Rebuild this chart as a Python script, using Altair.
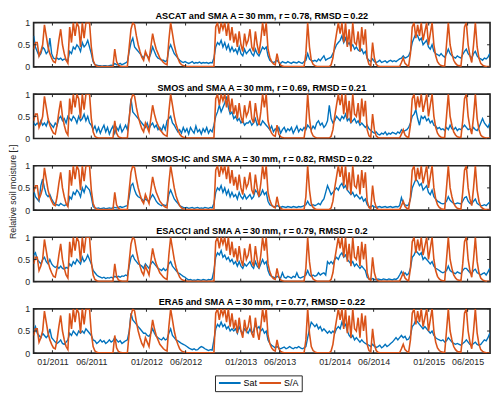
import altair as alt
import pandas as pd

BLUE = "#0072BD"
ORANGE = "#D95319"
FRAME = "#262626"
FONT = "Liberation Sans"

# weekly sampling dates of the time series
dates = pd.date_range("2010-10-20", periods=254, freq="7D")

# S/A model (orange) (same in every panel)
sa = [
    0.40, 0.55, 0.55, 0.25, 0.35, 0.50, 0.95, 0.70, 0.45, 0.30,
    0.20, 0.12, 0.10, 0.30, 0.60, 0.85, 0.50, 0.30, 0.15, 0.08,
    0.90, 0.55, 1.00, 0.70, 1.00, 0.90, 0.45, 1.00, 0.65, 1.00,
    1.00, 1.00, 0.45, 0.15, 0.05, 0.02, 0.01, 0.01, 0.01, 0.01,
    0.01, 0.01, 0.01, 0.01, 0.01, 0.40, 0.12, 0.04, 0.02, 0.01,
    0.01, 0.01, 0.01, 0.45, 0.85, 1.00, 0.95, 0.70, 0.50, 0.35,
    0.22, 0.15, 0.35, 0.25, 0.15, 0.45, 0.75, 0.55, 0.40, 0.30,
    0.20, 0.15, 0.10, 0.07, 0.05, 0.60, 1.00, 0.75, 0.50, 0.32,
    0.20, 0.10, 0.05, 0.03, 0.02, 0.01, 0.01, 0.01, 0.01, 0.01,
    0.01, 0.01, 0.01, 0.01, 0.01, 0.01, 0.01, 0.01, 0.01, 0.01,
    0.01, 0.90, 1.00, 0.75, 1.00, 0.85, 1.00, 0.70, 1.00, 0.60,
    0.90, 0.55, 0.75, 0.45, 0.80, 0.50, 0.35, 0.75, 0.50, 0.60,
    0.85, 0.45, 0.35, 0.80, 0.50, 0.30, 0.60, 1.00, 0.70, 1.00,
    0.40, 0.22, 0.12, 0.07, 0.05, 0.30, 0.10, 0.04, 0.02, 0.01,
    0.01, 0.01, 0.01, 0.01, 0.01, 0.01, 0.01, 0.01, 0.01, 0.01,
    0.01, 0.30, 1.00, 0.45, 0.15, 0.06, 0.03, 0.01, 0.01, 0.01,
    0.01, 0.01, 0.01, 0.01, 0.01, 0.05, 0.20, 0.50, 0.75, 1.00,
    0.75, 1.00, 0.55, 1.00, 0.45, 0.85, 0.35, 1.00, 0.55, 0.50,
    0.80, 0.35, 0.90, 0.50, 0.85, 0.20, 0.06, 0.03, 0.55, 0.20,
    0.06, 0.02, 0.01, 0.01, 0.01, 0.01, 0.01, 0.01, 0.01, 0.01,
    0.01, 0.01, 0.01, 0.01, 0.10, 0.20, 0.08, 0.04, 0.02, 0.30,
    0.90, 1.00, 0.65, 0.95, 0.70, 1.00, 0.60, 0.80, 1.00, 0.50,
    0.75, 1.00, 0.50, 0.25, 0.12, 0.06, 0.03, 0.02, 0.02, 0.50,
    1.00, 0.50, 0.30, 0.15, 0.08, 0.04, 0.03, 0.02, 0.40, 0.90,
    1.00, 0.50, 0.25, 0.10, 0.50, 1.00, 0.45, 0.20, 0.08, 0.04,
    0.02, 0.01, 0.01, 0.01,
]

sat_ascat = [
    0.70, 0.45, 0.35, 0.25, 0.30, 0.45, 0.40, 0.30, 0.35, 0.65,
    0.30, 0.20, 0.18, 0.20, 0.17, 0.20, 0.15, 0.18, 0.16, 0.14,
    0.35, 0.30, 0.45, 0.40, 0.50, 0.45, 0.35, 0.55, 0.45, 0.50,
    0.60, 0.45, 0.30, 0.12, 0.05, 0.04, 0.03, 0.03, 0.02, 0.03,
    0.03, 0.02, 0.03, 0.04, 0.03, 0.08, 0.05, 0.06, 0.08, 0.05,
    0.07, 0.09, 0.12, 0.35, 0.55, 0.65, 0.45, 0.40, 0.35, 0.30,
    0.25, 0.20, 0.30, 0.25, 0.20, 0.30, 0.45, 0.35, 0.25, 0.20,
    0.18, 0.15, 0.15, 0.12, 0.15, 0.40, 0.50, 0.40, 0.30, 0.25,
    0.20, 0.15, 0.12, 0.10, 0.12, 0.10, 0.08, 0.10, 0.12, 0.08,
    0.10, 0.09, 0.11, 0.08, 0.10, 0.09, 0.10, 0.08, 0.10, 0.09,
    0.20, 0.45, 0.55, 0.50, 0.60, 0.45, 0.55, 0.40, 0.50, 0.35,
    0.45, 0.35, 0.40, 0.30, 0.45, 0.30, 0.25, 0.40, 0.30, 0.35,
    0.40, 0.30, 0.25, 0.40, 0.30, 0.25, 0.35, 0.45, 0.40, 0.45,
    0.25, 0.15, 0.12, 0.10, 0.12, 0.15, 0.10, 0.08, 0.12, 0.10,
    0.09, 0.12, 0.10, 0.08, 0.11, 0.10, 0.09, 0.12, 0.10, 0.08,
    0.12, 0.15, 0.30, 0.18, 0.15, 0.13, 0.15, 0.12, 0.18, 0.14,
    0.20, 0.25, 0.15, 0.18, 0.20, 0.22, 0.30, 0.40, 0.50, 0.55,
    0.60, 0.70, 0.55, 0.65, 0.50, 0.55, 0.45, 0.50, 0.40, 0.45,
    0.38, 0.35, 0.40, 0.30, 0.35, 0.20, 0.15, 0.12, 0.18, 0.12,
    0.10, 0.12, 0.15, 0.10, 0.12, 0.14, 0.10, 0.13, 0.15, 0.12,
    0.14, 0.12, 0.15, 0.18, 0.20, 0.25, 0.20, 0.22, 0.25, 0.35,
    0.55, 0.65, 0.75, 0.70, 0.60, 0.65, 0.50, 0.55, 0.60, 0.45,
    0.40, 0.50, 0.35, 0.30, 0.28, 0.25, 0.30, 0.25, 0.22, 0.30,
    0.40, 0.30, 0.25, 0.22, 0.20, 0.25, 0.22, 0.20, 0.28, 0.35,
    0.40, 0.30, 0.25, 0.20, 0.30, 0.35, 0.25, 0.20, 0.18, 0.15,
    0.20, 0.18, 0.22, 0.30,
]

sat_smos = [
    0.35, 0.30, 0.35, 0.30, 0.40, 0.30, 0.35, 0.28, 0.40, 0.35,
    0.30, 0.25, 0.35, 0.30, 0.45, 0.50, 0.40, 0.45, 0.35, 0.50,
    0.45, 0.40, 0.50, 0.45, 0.35, 0.50, 0.40, 0.45, 0.55, 0.40,
    0.50, 0.35, 0.30, 0.20, 0.28, 0.15, 0.25, 0.12, 0.22, 0.30,
    0.15, 0.25, 0.10, 0.20, 0.28, 0.12, 0.25, 0.18, 0.30, 0.15,
    0.22, 0.30, 0.20, 0.45, 0.90, 0.60, 0.55, 0.50, 0.45, 0.40,
    0.35, 0.30, 0.25, 0.35, 0.22, 0.30, 0.35, 0.25, 0.30, 0.20,
    0.25, 0.18, 0.30, 0.20, 0.40, 0.45, 0.50, 0.35, 0.30, 0.22,
    0.15, 0.20, 0.12, 0.25, 0.15, 0.22, 0.10, 0.25, 0.18, 0.12,
    0.28, 0.15, 0.20, 0.10, 0.22, 0.15, 0.25, 0.12, 0.20, 0.15,
    0.30, 0.50, 0.60, 0.75, 0.60, 0.70, 0.80, 0.95, 0.70, 0.55,
    0.60, 0.45, 0.50, 0.40, 0.45, 0.35, 0.40, 0.30, 0.35, 0.35,
    0.40, 0.30, 0.35, 0.45, 0.30, 0.35, 0.30, 0.40, 0.35, 0.30,
    0.25, 0.20, 0.28, 0.15, 0.22, 0.18, 0.25, 0.12, 0.20, 0.25,
    0.15, 0.22, 0.18, 0.25, 0.12, 0.20, 0.28, 0.15, 0.22, 0.18,
    0.25, 0.20, 0.30, 0.25, 0.20, 0.28, 0.22, 0.35, 0.40, 0.30,
    0.35, 0.25, 0.30, 0.40, 0.75, 0.45, 0.35, 0.40, 0.50, 0.45,
    0.40, 0.50, 0.45, 0.55, 0.40, 0.45, 0.35, 0.40, 0.45, 0.35,
    0.40, 0.30, 0.35, 0.30, 0.25, 0.30, 0.22, 0.18, 0.15, 0.12,
    0.15, 0.10, 0.08, 0.12, 0.10, 0.15, 0.08, 0.12, 0.10, 0.14,
    0.12, 0.10, 0.15, 0.12, 0.20, 0.15, 0.18, 0.20, 0.25, 0.35,
    0.50, 0.55, 0.65, 0.45, 0.30, 0.50, 0.45, 0.50, 0.40, 0.45,
    0.35, 0.40, 0.30, 0.28, 0.22, 0.25, 0.20, 0.22, 0.18, 0.25,
    0.20, 0.30, 0.22, 0.20, 0.25, 0.18, 0.22, 0.20, 0.25, 0.30,
    0.25, 0.20, 0.22, 0.18, 0.25, 0.20, 0.18, 0.25, 0.35, 0.45,
    0.35, 0.30, 0.25, 0.35,
]

sat_smosic = [
    0.45, 0.30, 0.25, 0.20, 0.55, 0.70, 0.50, 0.35, 0.30, 0.35,
    0.25, 0.18, 0.12, 0.12, 0.10, 0.15, 0.12, 0.10, 0.12, 0.10,
    0.30, 0.25, 0.40, 0.35, 0.45, 0.40, 0.30, 0.50, 0.40, 0.55,
    0.50, 0.45, 0.30, 0.08, 0.05, 0.04, 0.05, 0.03, 0.04, 0.05,
    0.03, 0.04, 0.05, 0.04, 0.05, 0.06, 0.05, 0.06, 0.08, 0.06,
    0.07, 0.09, 0.10, 0.30, 0.55, 0.60, 0.45, 0.35, 0.30, 0.28,
    0.25, 0.20, 0.25, 0.22, 0.20, 0.28, 0.35, 0.28, 0.20, 0.15,
    0.12, 0.10, 0.12, 0.10, 0.12, 0.35, 0.45, 0.35, 0.25, 0.20,
    0.15, 0.10, 0.08, 0.06, 0.05, 0.06, 0.04, 0.05, 0.06, 0.04,
    0.05, 0.06, 0.04, 0.05, 0.04, 0.06, 0.05, 0.04, 0.06, 0.05,
    0.15, 0.40, 0.50, 0.45, 0.55, 0.40, 0.50, 0.35, 0.45, 0.30,
    0.40, 0.30, 0.35, 0.25, 0.40, 0.30, 0.25, 0.35, 0.25, 0.30,
    0.35, 0.25, 0.30, 0.45, 0.40, 0.30, 0.35, 0.45, 0.35, 0.40,
    0.20, 0.12, 0.10, 0.08, 0.07, 0.10, 0.08, 0.06, 0.08, 0.07,
    0.06, 0.08, 0.07, 0.06, 0.08, 0.07, 0.06, 0.08, 0.07, 0.08,
    0.10, 0.12, 0.20, 0.12, 0.10, 0.12, 0.10, 0.12, 0.15, 0.12,
    0.20, 0.25, 0.40, 0.55, 0.45, 0.35, 0.40, 0.45, 0.50, 0.45,
    0.55, 0.60, 0.50, 0.55, 0.45, 0.40, 0.35, 0.40, 0.30, 0.35,
    0.30, 0.25, 0.30, 0.20, 0.25, 0.12, 0.08, 0.07, 0.10, 0.07,
    0.06, 0.07, 0.08, 0.06, 0.07, 0.08, 0.06, 0.07, 0.08, 0.06,
    0.07, 0.08, 0.07, 0.10, 0.28, 0.15, 0.12, 0.10, 0.12, 0.25,
    0.50, 0.60, 0.70, 0.65, 0.55, 0.60, 0.45, 0.50, 0.55, 0.40,
    0.35, 0.45, 0.30, 0.25, 0.20, 0.18, 0.15, 0.14, 0.15, 0.20,
    0.30, 0.22, 0.18, 0.15, 0.14, 0.16, 0.15, 0.14, 0.20, 0.28,
    0.30, 0.20, 0.15, 0.14, 0.20, 0.25, 0.15, 0.12, 0.10, 0.10,
    0.12, 0.10, 0.14, 0.18,
]

sat_esacci = [
    0.60, 0.65, 0.50, 0.45, 0.40, 0.50, 0.55, 0.45, 0.40, 0.50,
    0.40, 0.35, 0.32, 0.35, 0.30, 0.35, 0.30, 0.28, 0.32, 0.30,
    0.40, 0.35, 0.45, 0.40, 0.50, 0.45, 0.40, 0.55, 0.45, 0.50,
    0.60, 0.50, 0.40, 0.25, 0.20, 0.15, 0.12, 0.10, 0.08, 0.10,
    0.07, 0.09, 0.08, 0.10, 0.08, 0.12, 0.10, 0.12, 0.10, 0.13,
    0.12, 0.15, 0.13, 0.35, 0.55, 0.60, 0.50, 0.45, 0.40, 0.38,
    0.35, 0.30, 0.40, 0.35, 0.30, 0.40, 0.45, 0.40, 0.35, 0.30,
    0.28, 0.25, 0.30, 0.25, 0.28, 0.40, 0.45, 0.35, 0.30, 0.25,
    0.20, 0.18, 0.15, 0.12, 0.10, 0.06, 0.04, 0.05, 0.03, 0.04,
    0.03, 0.05, 0.04, 0.03, 0.05, 0.04, 0.03, 0.05, 0.04, 0.06,
    0.25, 0.55, 0.65, 0.60, 0.70, 0.55, 0.60, 0.50, 0.55, 0.45,
    0.50, 0.40, 0.45, 0.35, 0.45, 0.35, 0.30, 0.40, 0.35, 0.40,
    0.45, 0.35, 0.30, 0.45, 0.35, 0.30, 0.40, 0.50, 0.40, 0.45,
    0.25, 0.15, 0.12, 0.10, 0.08, 0.12, 0.10, 0.08, 0.20, 0.10,
    0.08, 0.12, 0.10, 0.08, 0.12, 0.10, 0.20, 0.10, 0.08, 0.10,
    0.12, 0.15, 0.25, 0.15, 0.12, 0.15, 0.12, 0.14, 0.20, 0.15,
    0.18, 0.20, 0.15, 0.45, 0.40, 0.45, 0.40, 0.50, 0.55, 0.50,
    0.60, 0.65, 0.55, 0.60, 0.50, 0.45, 0.40, 0.45, 0.35, 0.40,
    0.35, 0.30, 0.35, 0.30, 0.25, 0.10, 0.06, 0.05, 0.07, 0.05,
    0.04, 0.06, 0.05, 0.04, 0.06, 0.05, 0.04, 0.06, 0.05, 0.04,
    0.06, 0.05, 0.08, 0.15, 0.23, 0.15, 0.20, 0.15, 0.18, 0.30,
    0.55, 0.60, 0.70, 0.65, 0.60, 0.65, 0.50, 0.55, 0.50, 0.45,
    0.40, 0.45, 0.35, 0.30, 0.28, 0.25, 0.22, 0.20, 0.22, 0.25,
    0.35, 0.25, 0.22, 0.20, 0.18, 0.22, 0.20, 0.18, 0.25, 0.30,
    0.30, 0.25, 0.20, 0.18, 0.25, 0.28, 0.20, 0.18, 0.15, 0.18,
    0.20, 0.15, 0.22, 0.30,
]

sat_era5 = [
    0.50, 0.60, 0.45, 0.40, 0.35, 0.45, 0.40, 0.35, 0.40, 0.55,
    0.35, 0.30, 0.25, 0.22, 0.25, 0.30, 0.22, 0.20, 0.25, 0.30,
    0.45, 0.40, 0.50, 0.45, 0.40, 0.50, 0.45, 0.50, 0.45, 0.55,
    0.50, 0.45, 0.40, 0.30, 0.28, 0.22, 0.25, 0.30, 0.25, 0.28,
    0.22, 0.25, 0.30, 0.25, 0.28, 0.35, 0.30, 0.25, 0.28, 0.22,
    0.25, 0.28, 0.30, 0.50, 0.90, 0.75, 0.70, 0.65, 0.60, 0.55,
    0.50, 0.45, 0.45, 0.40, 0.38, 0.45, 0.55, 0.45, 0.38, 0.35,
    0.32, 0.30, 0.35, 0.30, 0.32, 0.45, 0.55, 0.40, 0.35, 0.30,
    0.28, 0.25, 0.22, 0.20, 0.18, 0.15, 0.12, 0.10, 0.08, 0.10,
    0.07, 0.08, 0.12, 0.15, 0.13, 0.10, 0.08, 0.06, 0.08, 0.07,
    0.30, 0.55, 0.65, 0.60, 0.70, 0.60, 0.65, 0.55, 0.60, 0.50,
    0.55, 0.50, 0.55, 0.45, 0.60, 0.50, 0.45, 0.55, 0.50, 0.45,
    0.55, 0.45, 0.50, 0.65, 0.55, 0.60, 0.50, 0.55, 0.45, 0.50,
    0.30, 0.22, 0.18, 0.15, 0.12, 0.15, 0.12, 0.10, 0.12, 0.14,
    0.10, 0.12, 0.15, 0.12, 0.10, 0.13, 0.12, 0.15, 0.12, 0.10,
    0.12, 0.15, 0.35, 0.55, 0.70, 0.65, 0.60, 0.65, 0.55, 0.60,
    0.50, 0.55, 0.50, 0.45, 0.50, 0.45, 0.50, 0.45, 0.55, 0.60,
    0.55, 0.70, 0.60, 0.65, 0.50, 0.40, 0.35, 0.40, 0.30, 0.35,
    0.30, 0.25, 0.30, 0.25, 0.22, 0.20, 0.18, 0.15, 0.20, 0.15,
    0.13, 0.15, 0.18, 0.12, 0.15, 0.20, 0.15, 0.18, 0.22, 0.25,
    0.30, 0.35, 0.30, 0.35, 0.40, 0.35, 0.38, 0.30, 0.32, 0.40,
    0.60, 0.65, 0.75, 0.70, 0.65, 0.60, 0.55, 0.60, 0.55, 0.50,
    0.45, 0.50, 0.40, 0.35, 0.32, 0.30, 0.28, 0.30, 0.25, 0.28,
    0.35, 0.30, 0.25, 0.22, 0.20, 0.22, 0.20, 0.18, 0.22, 0.25,
    0.30, 0.25, 0.20, 0.18, 0.22, 0.25, 0.20, 0.18, 0.20, 0.25,
    0.30, 0.28, 0.35, 0.45,
]

TS = "\u2009"  # thin space, as in the original titles
panel_titles = [
    f"ASCAT and SMA A{TS}={TS}30{TS}mm, r{TS}={TS}0.78, RMSD{TS}={TS}0.22",
    f"SMOS and SMA A{TS}={TS}30{TS}mm, r{TS}={TS}0.69, RMSD{TS}={TS}0.21",
    f"SMOS-IC and SMA A{TS}={TS}30{TS}mm, r{TS}={TS}0.82, RMSD{TS}={TS}0.22",
    f"ESACCI and SMA A{TS}={TS}30{TS}mm, r{TS}={TS}0.79, RMSD{TS}={TS}0.2",
    f"ERA5 and SMA A{TS}={TS}30{TS}mm, r{TS}={TS}0.77, RMSD{TS}={TS}0.22",
]
panel_sat = [sat_ascat, sat_smos, sat_smosic, sat_esacci, sat_era5]
y_title = "Relative soil moisture [-]"

tick_dates = pd.to_datetime([
    "2011-01-01", "2011-06-01", "2012-01-01", "2012-06-01", "2013-01-01",
    "2013-06-01", "2014-01-01", "2014-06-01", "2015-01-01", "2015-06-01",
])
y_ticks = [0, 0.5, 1]
series_names = ["Sat", "S/A"]

for name, arr in [("sa", sa)] + list(zip(panel_titles, panel_sat)):
    assert len(arr) == len(dates), (name, len(arr))

W, H = 463, 45
GAP = 27.6
TICK = 3

x_domain = [alt.DateTime(year=2010, month=10, date=20),
            alt.DateTime(year=2015, month=8, date=27)]
tick_values = [alt.DateTime(year=d.year, month=d.month, date=d.day) for d in tick_dates]

color = alt.Color(
    "series:N",
    scale=alt.Scale(domain=series_names, range=[BLUE, ORANGE]),
    legend=alt.Legend(
        title=None, orient="none", direction="horizontal",
        legendX=184, legendY=4 * (H + GAP) + H + 22.5,
        symbolType="stroke", symbolSize=484, symbolStrokeWidth=2,
        clipHeight=9,
        labelFontSize=9, labelFont=FONT, labelColor="black",
        strokeColor=FRAME, padding=3, columnPadding=1, labelOffset=2,
    ),
)


def make_panel(k):
    title = panel_titles[k]
    sat = panel_sat[k]
    last = k == len(panel_titles) - 1
    df = pd.DataFrame({
        "date": list(dates) * 2,
        "value": list(sat) + list(sa),
        "series": ["Sat"] * len(dates) + ["S/A"] * len(dates),
    })
    x = alt.X(
        "date:T",
        scale=alt.Scale(domain=x_domain),
        axis=alt.Axis(
            values=tick_values, format="%m/%Y", labels=last, ticks=False,
            domain=False, grid=False, title=None, labelFontSize=9,
            labelFont=FONT, labelColor=FRAME, labelPadding=4,
        ),
    )
    y = alt.Y("value:Q", scale=alt.Scale(domain=[0, 1], nice=False),
              axis=alt.Axis(values=y_ticks, format="~g", ticks=False,
                            domain=False, grid=False, title=None,
                            labelFontSize=9, labelFont=FONT,
                            labelColor=FRAME, labelPadding=4))

    base = alt.Chart(df)
    blue = base.transform_filter(alt.datum.series == "Sat").mark_line(
        strokeWidth=1.4, clip=True).encode(x=x, y=y, color=color)
    orange = base.transform_filter(alt.datum.series == "S/A").mark_line(
        strokeWidth=1.6, clip=True).encode(x=x, y=y, color=color)

    tdf = pd.DataFrame({"date": tick_dates})
    ydf = pd.DataFrame({"value": y_ticks})
    t_top = alt.Chart(tdf).mark_rule(color=FRAME, strokeWidth=1).encode(
        x=x, y=alt.value(0), y2=alt.value(TICK))
    t_bot = alt.Chart(tdf).mark_rule(color=FRAME, strokeWidth=1).encode(
        x=x, y=alt.value(H), y2=alt.value(H - TICK))
    t_left = alt.Chart(ydf).mark_rule(color=FRAME, strokeWidth=1).encode(
        y=y, x=alt.value(0), x2=alt.value(TICK))
    t_right = alt.Chart(ydf).mark_rule(color=FRAME, strokeWidth=1).encode(
        y=y, x=alt.value(W), x2=alt.value(W - TICK))

    ttl = alt.Chart(pd.DataFrame({"t": [title]})).mark_text(
        font=FONT, fontSize=9.3, fontWeight="bold", color="black",
        align="center", baseline="bottom",
    ).encode(text="t:N", x=alt.value(W / 2), y=alt.value(-1.5))

    layers = [blue, orange, t_top, t_bot, t_left, t_right, ttl]
    if k == 2:
        ylab = alt.Chart(pd.DataFrame({"t": [y_title]})).mark_text(
            font=FONT, fontSize=9, color=FRAME, angle=270,
            align="center", baseline="middle",
        ).encode(text="t:N", x=alt.value(-21), y=alt.value(H / 2 + 4))
        layers.append(ylab)

    return alt.layer(*layers).properties(width=W, height=H)


chart = alt.vconcat(
    *[make_panel(k) for k in range(len(panel_titles))],
    spacing=GAP, bounds="flush",
).properties(
    padding={"left": 0, "top": 0, "right": 0, "bottom": 0}
).configure(font=FONT).configure_view(stroke=FRAME, strokeWidth=1.7)

chart.save("out.html", embed_options={"renderer": "svg", "actions": False})
